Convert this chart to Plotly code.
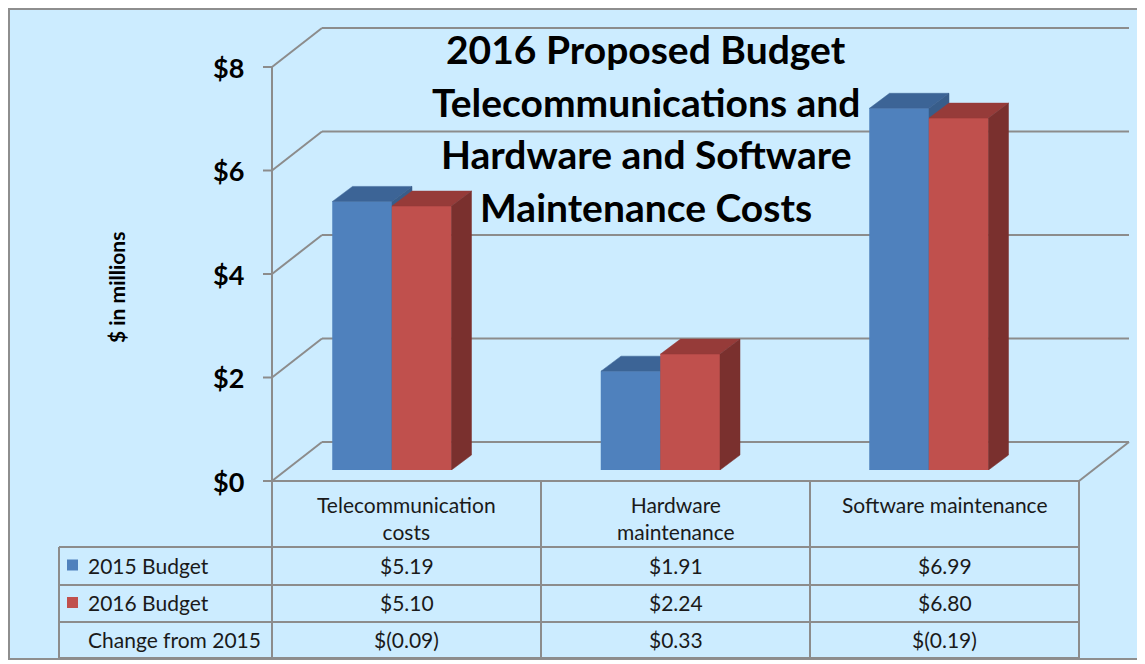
import plotly.graph_objects as go

# ---------------- data ----------------
categories = ["Telecommunication<br>costs", "Hardware<br>maintenance", "Software maintenance"]
series_names = ["2015 Budget", "2016 Budget"]
budget_2015 = [5.19, 1.91, 6.99]
budget_2016 = [5.10, 2.24, 6.80]
change_label = "Change from 2015"
y_ticks = [0, 2, 4, 6, 8]
y_tick_labels = ["$0", "$2", "$4", "$6", "$8"]
title_lines = ["2016 Proposed Budget", "Telecommunications and", "Hardware and Software", "Maintenance Costs"]
y_title = "$ in millions"

# ---------------- style ----------------
PAGE_W, PAGE_H = 1145, 664
OFF = 8                       # default page body margin
W, H = PAGE_W - OFF, PAGE_H - OFF
BG = "#CCECFF"
GRID = "#8C8C8C"
FONT = "Lato"
front_cols = ["#4F81BD", "#C0504D"]
top_cols = ["#3C6496", "#963B39"]
side_cols = ["#385D8A", "#7A302E"]

# geometry (page pixels)
Y0_FRONT = 481.0      # $0 on front axis plane
PX_PER_UNIT = 51.75   # pixels per $1M
DEPTH_DX, DEPTH_DY = 50.0, -39.0   # wall depth
AXIS_X = 272.0
WALL_RIGHT = 1129.0
BAR_Y0 = 470.0        # $0 on the bar front plane
CAT0_X = 392.0
CAT_STEP = 268.5
BAR_W_PX = 59.5
BAR_DX_PX, BAR_DY_PX = 20.0, -15.0

def px(xp):
    return (xp - OFF) / W

def py(yp):
    return 1 - (yp - OFF) / H

def front_y(v):
    return Y0_FRONT - v * PX_PER_UNIT

fig = go.Figure()

# bar plane axes
x_lo = (OFF - CAT0_X) / CAT_STEP
x_hi = (PAGE_W - CAT0_X) / CAT_STEP
y_bottom_px = BAR_Y0
y_top_px = BAR_Y0 - 8 * PX_PER_UNIT

bw = BAR_W_PX / CAT_STEP
ddx = BAR_DX_PX / CAT_STEP
ddy = -BAR_DY_PX / PX_PER_UNIT

series = [budget_2015, budget_2016]
for ci in range(len(categories)):
    for si, vals in enumerate(series):
        v = vals[ci]
        x0 = ci - bw + si * bw
        x1 = x0 + bw
        # front face
        fig.add_trace(go.Scatter(
            x=[x0, x1, x1, x0, x0], y=[0, 0, v, v, 0], mode="lines",
            fill="toself", fillcolor=front_cols[si],
            line=dict(color=front_cols[si], width=0.5),
            hoverinfo="skip", showlegend=False))
        # top face
        fig.add_trace(go.Scatter(
            x=[x0, x1, x1 + ddx, x0 + ddx, x0], y=[v, v, v + ddy, v + ddy, v], mode="lines",
            fill="toself", fillcolor=top_cols[si],
            line=dict(color=top_cols[si], width=0.5),
            hoverinfo="skip", showlegend=False))
        # side face
        fig.add_trace(go.Scatter(
            x=[x1, x1 + ddx, x1 + ddx, x1, x1], y=[0, ddy, v + ddy, v, 0], mode="lines",
            fill="toself", fillcolor=side_cols[si],
            line=dict(color=side_cols[si], width=0.5),
            hoverinfo="skip", showlegend=False))

shapes = []
# chart area background & border
shapes.append(dict(type="rect", xref="paper", yref="paper", x0=px(9), x1=px(1140), y0=py(9), y1=py(659),
                   fillcolor=BG, line=dict(color="#8E8E8E", width=2), layer="below"))

def seg(xa, ya, xb, yb, w=2):
    shapes.append(dict(type="line", xref="paper", yref="paper", x0=px(xa), y0=py(ya), x1=px(xb), y1=py(yb),
                       line=dict(color=GRID, width=w), layer="below"))

# walls gridlines
for t in y_ticks:
    yf = front_y(t)
    yb = yf + DEPTH_DY
    seg(AXIS_X, yf, AXIS_X + DEPTH_DX, yb)
    seg(AXIS_X + DEPTH_DX, yb, WALL_RIGHT, yb)
    seg(AXIS_X - 9, yf, AXIS_X, yf)

# front axis line
seg(AXIS_X, front_y(8), AXIS_X, front_y(0))
# floor front edge and right diagonal
FLOOR_RIGHT = WALL_RIGHT - DEPTH_DX
seg(AXIS_X, front_y(0), FLOOR_RIGHT, front_y(0))
seg(FLOOR_RIGHT, front_y(0), WALL_RIGHT, front_y(0) + DEPTH_DY)

# data table
col_edges = [AXIS_X + i * (FLOOR_RIGHT - AXIS_X) / 3 for i in range(4)]
TABLE_LEFT = 59
row_edges = [481, 547, 585, 622, 658]
for xe in col_edges:
    seg(xe, row_edges[0], xe, row_edges[-1])
seg(TABLE_LEFT, row_edges[1], TABLE_LEFT, row_edges[-1])
for ye in row_edges[1:]:
    seg(TABLE_LEFT, ye, FLOOR_RIGHT, ye)

annotations = []
# title (one annotation per line for exact line spacing)
TITLE_Y0, TITLE_STEP = 49, 52.5
for li, line in enumerate(title_lines):
    annotations.append(dict(text="<b>" + line + "</b>", xref="paper", yref="paper",
                            x=px(646), y=py(TITLE_Y0 + li * TITLE_STEP), xanchor="center", yanchor="middle",
                            showarrow=False, font=dict(family=FONT, size=39, color="black")))
# y axis title
annotations.append(dict(text="<b>" + y_title + "</b>", xref="paper", yref="paper",
                        x=px(116), y=py(287), xanchor="center", yanchor="middle", textangle=-90,
                        showarrow=False, font=dict(family=FONT, size=21, color="black")))
# y tick labels
for t, lab in zip(y_ticks, y_tick_labels):
    annotations.append(dict(text="<b>" + lab + "</b>", xref="paper", yref="paper",
                            x=px(246), y=py(front_y(t)), xanchor="right", yanchor="middle",
                            showarrow=False, font=dict(family=FONT, size=27, color="black")))

tfont = dict(family=FONT, size=21, color="#1a1a1a")
# column headers
for ci, cat in enumerate(categories):
    cx = (col_edges[ci] + col_edges[ci + 1]) / 2
    annotations.append(dict(text=cat, xref="paper", yref="paper", x=px(cx), y=py(490),
                            xanchor="center", yanchor="top", showarrow=False, font=tfont,
                            align="center"))

def money(v):
    if round(v, 2) < 0:
        return "$(%.2f)" % abs(v)
    return "$%.2f" % v

changes = [b - a for a, b in zip(budget_2015, budget_2016)]
rows = [(series_names[0], budget_2015, front_cols[0]),
        (series_names[1], budget_2016, front_cols[1]),
        (change_label, changes, None)]
for ri, (name, vals, col) in enumerate(rows):
    yc = (row_edges[ri + 1] + row_edges[ri + 2]) / 2 - 1
    if col:
        shapes.append(dict(type="rect", xref="paper", yref="paper", x0=px(67), x1=px(78),
                           y0=py(yc - 5.5), y1=py(yc + 5.5), fillcolor=col, line=dict(width=0)))
    annotations.append(dict(text=name, xref="paper", yref="paper", x=px(86), y=py(yc),
                            xanchor="left", yanchor="middle", showarrow=False, font=tfont))
    for ci, v in enumerate(vals):
        cx = (col_edges[ci] + col_edges[ci + 1]) / 2
        annotations.append(dict(text=money(v), xref="paper", yref="paper", x=px(cx), y=py(yc),
                                xanchor="center", yanchor="middle", showarrow=False, font=tfont))

fig.update_layout(
    width=W, height=H, autosize=False,
    margin=dict(l=0, r=0, t=0, b=0),
    paper_bgcolor="white", plot_bgcolor="rgba(0,0,0,0)",
    xaxis=dict(range=[x_lo, x_hi], domain=[0, 1], visible=False, fixedrange=True),
    yaxis=dict(range=[0, 8], domain=[py(y_bottom_px), py(y_top_px)], visible=False, fixedrange=True),
    shapes=shapes, annotations=annotations, showlegend=False,
)

fig.write_html("out.html")
